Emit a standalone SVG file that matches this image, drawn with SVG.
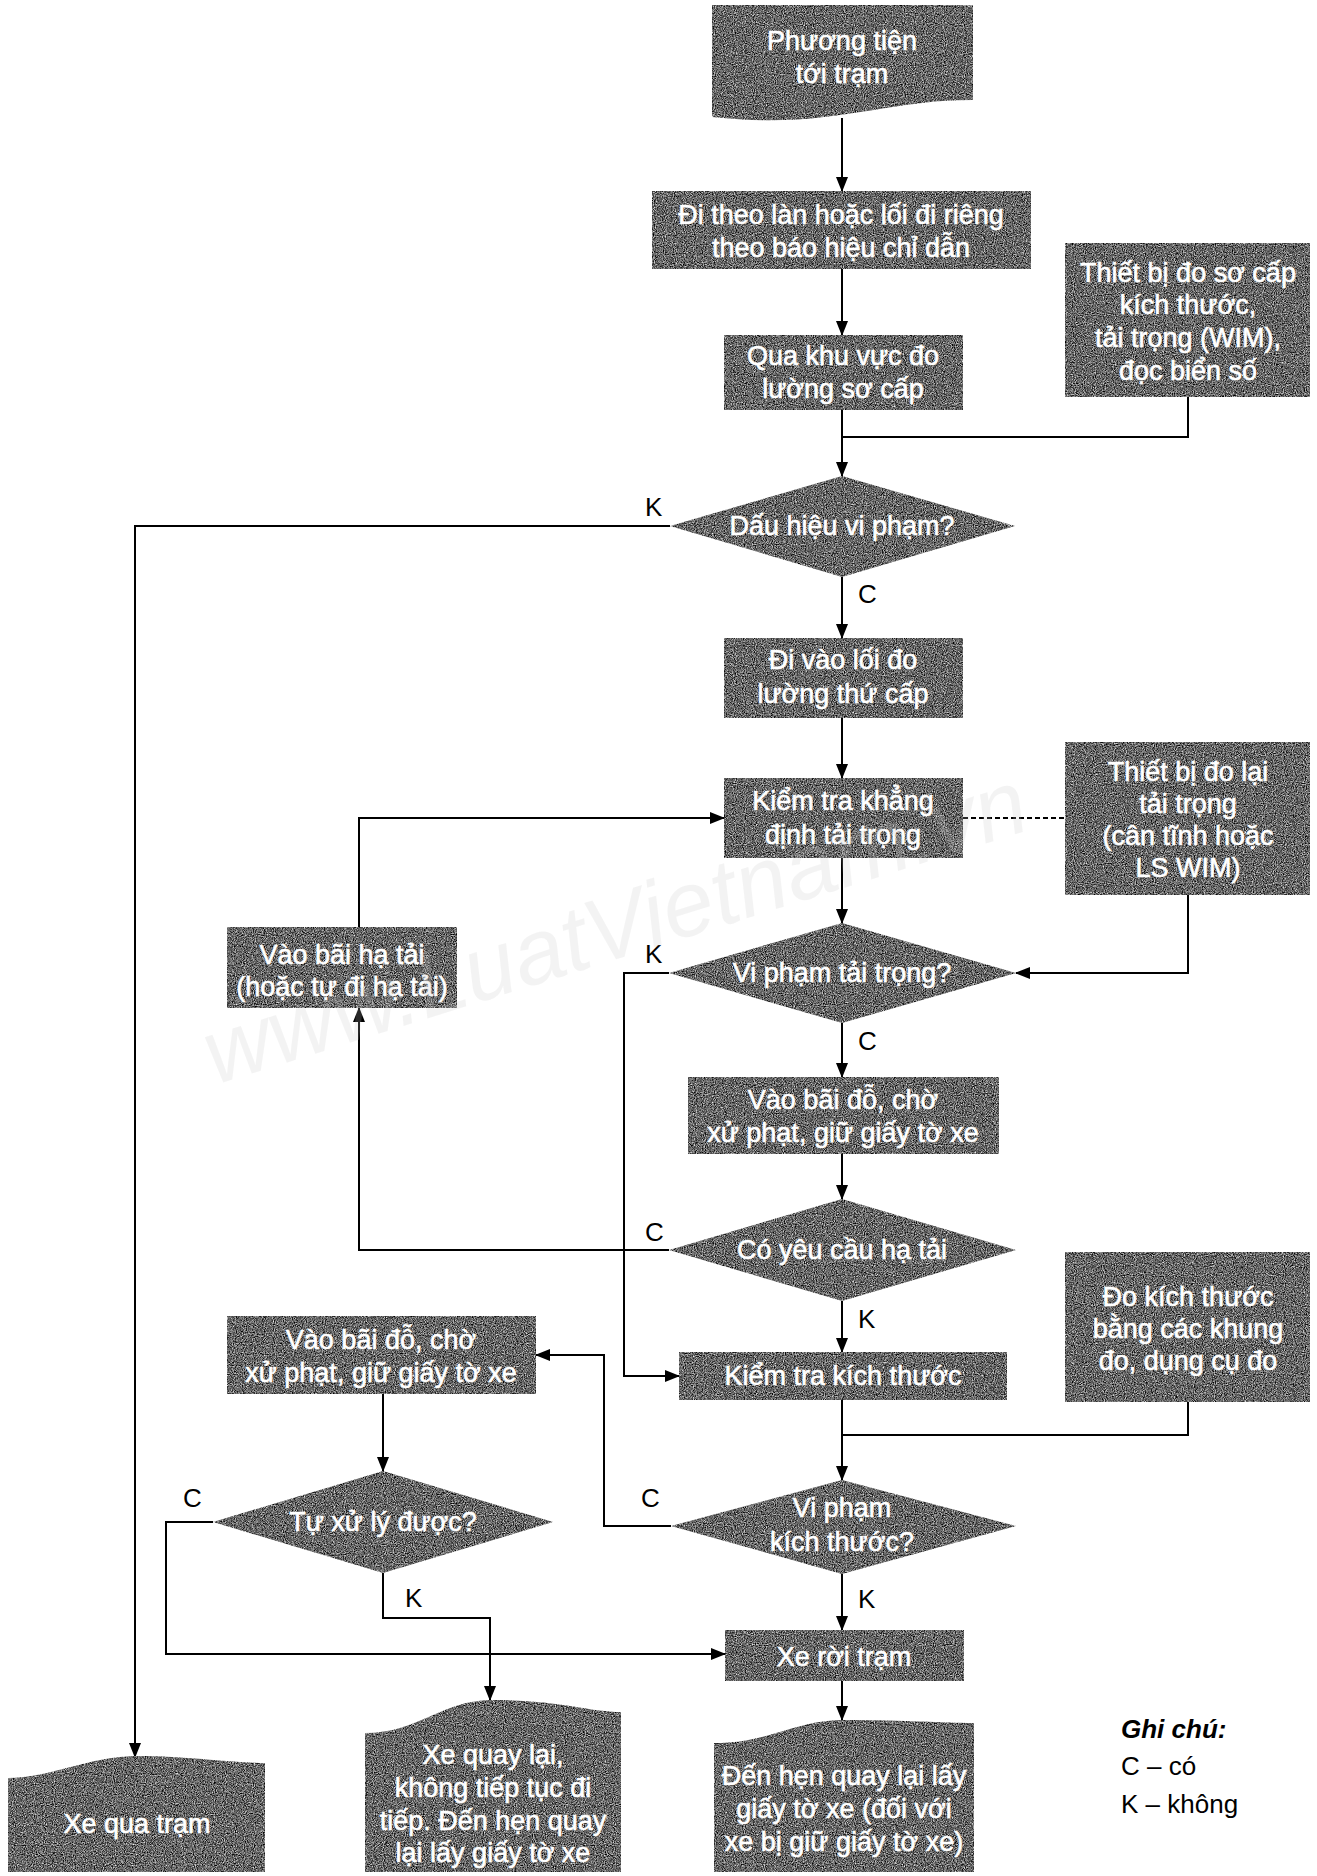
<svg xmlns="http://www.w3.org/2000/svg" width="1317" height="1876" viewBox="0 0 1317 1876">
<defs>
<style>
.shape{fill:#666;filter:url(#grain)}
.t{font-family:"Liberation Sans",Arial,sans-serif;font-size:27px;fill:#fff;stroke:#fff;stroke-width:0.6;text-anchor:middle}
.lbl{font-family:"Liberation Sans",Arial,sans-serif;font-size:26px;fill:#000}
.conn path{fill:none;stroke:#000;stroke-width:2}
.arr{marker-end:url(#ah)}
.wm{font-family:"Liberation Sans",Arial,sans-serif;font-style:italic;font-size:92px;fill:#c8c8c8;opacity:0.2}
</style>
<filter id="grain" color-interpolation-filters="sRGB">
<feTurbulence type="fractalNoise" baseFrequency="0.9" numOctaves="2" seed="4" result="n"/>
<feColorMatrix in="n" type="matrix" values="1.4 0 0 0 -0.3  1.4 0 0 0 -0.3  1.4 0 0 0 -0.3  0 0 0 0 1" result="g"/>
<feComposite in="g" in2="SourceGraphic" operator="in"/>
</filter>
<marker id="ah" markerUnits="userSpaceOnUse" markerWidth="15" markerHeight="12" refX="14" refY="6" orient="auto" viewBox="0 0 15 12">
<path d="M0,0 L15,6 L0,12 Z" fill="#000"/>
</marker>
</defs>
<rect width="1317" height="1876" fill="#fff"/>

<g class="conn">
<path class="arr" d="M842,118 V191"/>
<path class="arr" d="M842,269 V335"/>
<path class="arr" d="M842,410 V476"/>
<path d="M1188,397 V437 H842"/>
<path class="arr" d="M670,526 H135 V1757"/>
<path class="arr" d="M842,577 V638"/>
<path class="arr" d="M842,718 V778"/>
<path d="M963,818 H1065" stroke-dasharray="5,3"/>
<path class="arr" d="M842,858 V923"/>
<path class="arr" d="M1188,895 V973 H1016"/>
<path class="arr" d="M669,973 H624 V1376 H679"/>
<path class="arr" d="M842,1023 V1077"/>
<path class="arr" d="M842,1154 V1199"/>
<path class="arr" d="M669,1250 H359 V1008"/>
<path class="arr" d="M359,927 V818 H724"/>
<path class="arr" d="M842,1301 V1352"/>
<path class="arr" d="M842,1400 V1480"/>
<path d="M1188,1402 V1435 H842"/>
<path class="arr" d="M671,1526 H604 V1355 H536"/>
<path class="arr" d="M383,1394 V1471"/>
<path class="arr" d="M213,1522 H166 V1654 H725"/>
<path class="arr" d="M383,1573 V1618 H490 V1700"/>
<path class="arr" d="M842,1574 V1630"/>
<path class="arr" d="M842,1681 V1720"/>
</g>

<g id="lbls">
<text class="lbl" x="645" y="516">K</text>
<text class="lbl" x="858" y="603">C</text>
<text class="lbl" x="645" y="963">K</text>
<text class="lbl" x="858" y="1050">C</text>
<text class="lbl" x="645" y="1241">C</text>
<text class="lbl" x="858" y="1328">K</text>
<text class="lbl" x="641" y="1507">C</text>
<text class="lbl" x="183" y="1507">C</text>
<text class="lbl" x="405" y="1607">K</text>
<text class="lbl" x="858" y="1608">K</text>
</g>

<g id="n-start">
<path class="shape" d="M712,5 H973 V100 C880,100 830,130 712,117 Z"/>
<text class="t" x="842" y="50">Phương tiện</text>
<text class="t" x="842" y="83">tới trạm</text>
</g>
<g id="n-lane">
<rect class="shape" x="652" y="191" width="379" height="78"/>
<text class="t" x="841" y="224">Đi theo làn hoặc lối đi riêng</text>
<text class="t" x="841" y="257">theo báo hiệu chỉ dẫn</text>
</g>
<g id="n-primary">
<rect class="shape" x="724" y="335" width="239" height="75"/>
<text class="t" x="843" y="365">Qua khu vực đo</text>
<text class="t" x="843" y="398">lường sơ cấp</text>
</g>
<g id="n-dev1">
<rect class="shape" x="1065" y="243" width="245" height="154"/>
<text class="t" x="1188" y="282">Thiết bị đo sơ cấp</text>
<text class="t" x="1188" y="314">kích thước,</text>
<text class="t" x="1188" y="347">tải trọng (WIM),</text>
<text class="t" x="1188" y="380">đọc biển số</text>
</g>
<g id="n-d1">
<polygon class="shape" points="842,476 1015,526 842,577 670,526"/>
<text class="t" x="842" y="535">Dấu hiệu vi phạm?</text>
</g>
<g id="n-secondary">
<rect class="shape" x="724" y="638" width="239" height="80"/>
<text class="t" x="843" y="669">Đi vào lối đo</text>
<text class="t" x="843" y="703">lường thứ cấp</text>
</g>
<g id="n-confirm">
<rect class="shape" x="724" y="778" width="239" height="80"/>
<text class="t" x="843" y="810">Kiểm tra khẳng</text>
<text class="t" x="843" y="844">định tải trọng</text>
</g>
<g id="n-dev2">
<rect class="shape" x="1065" y="742" width="245" height="153"/>
<text class="t" x="1188" y="781">Thiết bị đo lại</text>
<text class="t" x="1188" y="813">tải trọng</text>
<text class="t" x="1188" y="845">(cân tĩnh hoặc</text>
<text class="t" x="1188" y="877">LS WIM)</text>
</g>
<g id="n-d2">
<polygon class="shape" points="842,923 1016,973 842,1023 669,973"/>
<text class="t" x="842" y="982">Vi phạm tải trọng?</text>
</g>
<g id="n-park1">
<rect class="shape" x="688" y="1077" width="311" height="77"/>
<text class="t" x="843" y="1109">Vào bãi đỗ, chờ</text>
<text class="t" x="843" y="1142">xử phạt, giữ giấy tờ xe</text>
</g>
<g id="n-d3">
<polygon class="shape" points="842,1199 1016,1250 842,1301 669,1250"/>
<text class="t" x="842" y="1259">Có yêu cầu hạ tải</text>
</g>
<g id="n-unload">
<rect class="shape" x="227" y="927" width="230" height="81"/>
<text class="t" x="342" y="964">Vào bãi hạ tải</text>
<text class="t" x="342" y="996">(hoặc tự đi hạ tải)</text>
</g>
<g id="n-size">
<rect class="shape" x="679" y="1352" width="328" height="48"/>
<text class="t" x="843" y="1385">Kiểm tra kích thước</text>
</g>
<g id="n-dev3">
<rect class="shape" x="1065" y="1252" width="245" height="150"/>
<text class="t" x="1188" y="1306">Đo kích thước</text>
<text class="t" x="1188" y="1338">bằng các khung</text>
<text class="t" x="1188" y="1370">đo, dụng cụ đo</text>
</g>
<g id="n-d4">
<polygon class="shape" points="842,1480 1016,1526 842,1574 671,1526"/>
<text class="t" x="842" y="1517">Vi phạm</text>
<text class="t" x="842" y="1551">kích thước?</text>
</g>
<g id="n-park2">
<rect class="shape" x="227" y="1316" width="309" height="78"/>
<text class="t" x="381" y="1349">Vào bãi đỗ, chờ</text>
<text class="t" x="381" y="1382">xử phạt, giữ giấy tờ xe</text>
</g>
<g id="n-d5">
<polygon class="shape" points="383,1471 553,1522 383,1573 213,1522"/>
<text class="t" x="383" y="1531">Tự xử lý được?</text>
</g>
<g id="n-leave">
<rect class="shape" x="725" y="1630" width="239" height="51"/>
<text class="t" x="844" y="1666">Xe rời trạm</text>
</g>
<g id="n-end3">
<path class="shape" d="M714,1743 C770,1743 795,1720 844,1720 C910,1720 940,1723 974,1723 V1872 H714 Z"/>
<text class="t" x="844" y="1785">Đến hẹn quay lại lấy</text>
<text class="t" x="844" y="1818">giấy tờ xe (đối với</text>
<text class="t" x="844" y="1851">xe bị giữ giấy tờ xe)</text>
</g>
<g id="n-end2">
<path class="shape" d="M365,1733 C420,1733 440,1700 493,1700 C560,1700 590,1712 621,1712 V1872 H365 Z"/>
<text class="t" x="493" y="1764">Xe quay lại,</text>
<text class="t" x="493" y="1797">không tiếp tục đi</text>
<text class="t" x="493" y="1830">tiếp. Đến hẹn quay</text>
<text class="t" x="493" y="1862">lại lấy giấy tờ xe</text>
</g>
<g id="n-end1">
<path class="shape" d="M8,1778 C50,1778 90,1756 137,1756 C190,1756 230,1763 265,1763 V1872 H8 Z"/>
<text class="t" x="137" y="1833">Xe qua trạm</text>
</g>

<g id="legend">
<text class="lbl" x="1121" y="1738" font-weight="bold" font-style="italic">Ghi chú:</text>
<text class="lbl" x="1121" y="1775">C – có</text>
<text class="lbl" x="1121" y="1813">K – không</text>
</g>

<text class="wm" x="215" y="1085" transform="rotate(-17.4 215 1085)">www.LuatVietnam.vn</text>
</svg>
